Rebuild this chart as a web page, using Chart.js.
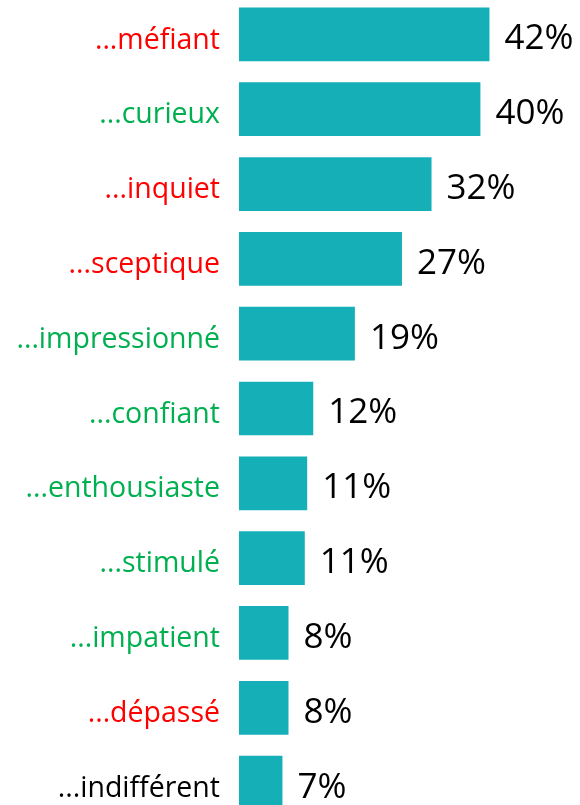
<!DOCTYPE html>
<html lang="fr">
<head>
<meta charset="utf-8">
<script src="https://cdn.jsdelivr.net/npm/chart.js@4"></script>
<style>
    html, body { margin: 0; padding: 0; background: #fff; overflow: hidden; }
    body { width: 580px; height: 805px; position: relative; }
    #wrap { position: absolute; left: 0; top: -3px; width: 580px; height: 823px; }
</style>
</head>
<body>
<div id="wrap"><canvas id="chart"></canvas></div>
<script>
const categories = ['...méfiant', '...curieux', '...inquiet', '...sceptique', '...impressionné', '...confiant',
    '...enthousiaste', '...stimulé', '...impatient', '...dépassé', '...indifférent'];
const values = [41.5, 40, 31.9, 27, 19.2, 12.3, 11.3, 10.9, 8.2, 8.2, 7.2];
const labelColors = ['#FF0000', '#00B050', '#FF0000', '#FF0000', '#00B050', '#00B050',
    '#00B050', '#00B050', '#00B050', '#FF0000', '#000000'];
const barColor = '#14AFB7';

const valueLabels = {
    id: 'valueLabels',
    afterDatasetsDraw(chart) {
        const ctx = chart.ctx;
        const meta = chart.getDatasetMeta(0);
        ctx.save();
        ctx.font = '35px "Open Sans"';
        ctx.fillStyle = '#000';
        ctx.textAlign = 'left';
        ctx.textBaseline = 'middle';
        meta.data.forEach((bar, i) => {
            ctx.fillText(Math.round(values[i]) + '%', bar.x + 15, bar.y + 5);
        });
        ctx.restore();
    }
};

new Chart(document.getElementById('chart'), {
    type: 'bar',
    data: {
        labels: categories,
        datasets: [{
            data: values,
            backgroundColor: barColor,
            borderWidth: 0,
            categoryPercentage: 1,
            barPercentage: 0.718
        }]
    },
    options: {
        indexAxis: 'y',
        responsive: true,
        maintainAspectRatio: false,
        animation: false,
        layout: { padding: 0 },
        plugins: {
            legend: { display: false },
            tooltip: { enabled: false }
        },
        scales: {
            x: {
                display: false,
                min: 0,
                max: 56.5
            },
            y: {
                grid: { display: false, drawTicks: false },
                border: { display: false },
                ticks: {
                    padding: 19,
                    labelOffset: 6,
                    font: { family: 'Open Sans', size: 28.5 },
                    color: c => labelColors[c.index]
                },
                afterFit(scale) {
                    // fixed label column, no extra room above / below the bars
                    scale.width = 239;
                    scale.paddingTop = 0;
                    scale.paddingBottom = 0;
                }
            }
        }
    },
    plugins: [valueLabels]
});
</script>
</body>
</html>
